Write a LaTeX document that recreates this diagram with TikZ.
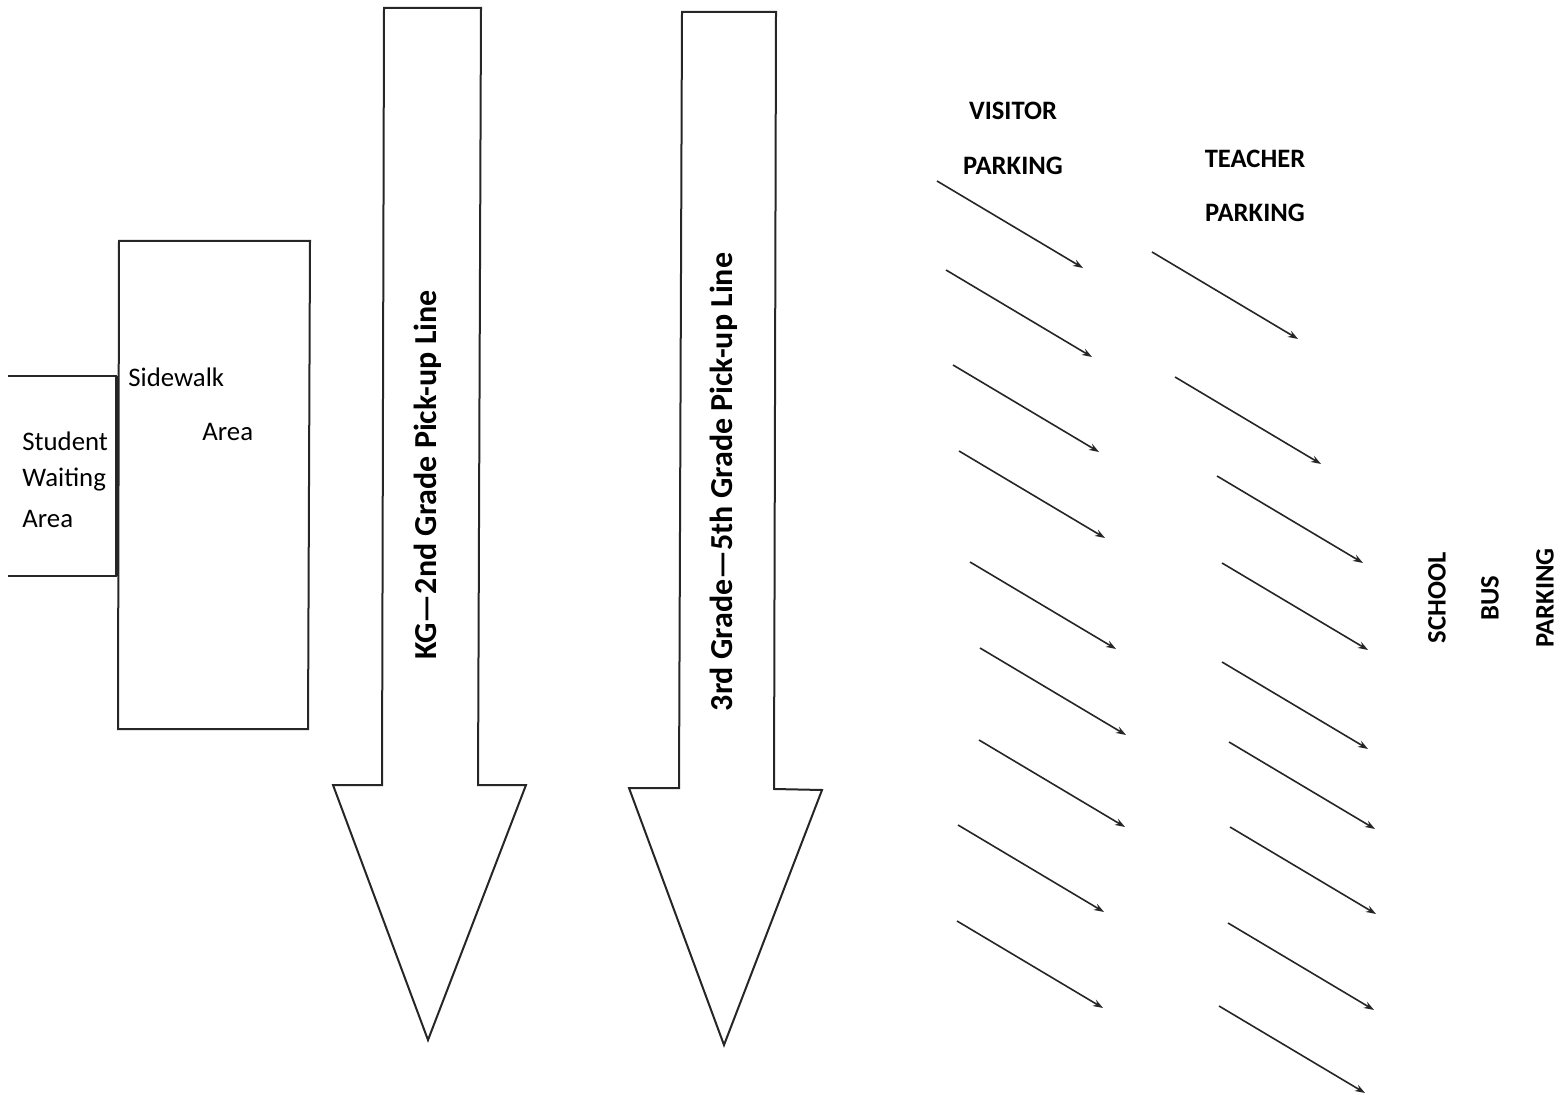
\documentclass[tikz,border=0pt]{standalone}
\usepackage{fontspec}
\setmainfont{Carlito}
\usetikzlibrary{arrows.meta}

\tikzset{
    outline/.style={line width=1pt, draw=black!85},
    lbl/.style={font=\fontsize{13.4}{15}\selectfont, inner sep=0pt},
    bold lbl/.style={font=\fontsize{13.3}{15}\selectfont\bfseries, inner sep=0pt},
    line lbl/.style={font=\fontsize{16}{18}\selectfont\bfseries, inner sep=0pt, rotate=90},
    park/.style={line width=0.8pt, draw=black!85, -{Stealth[length=5pt,width=3.5pt]}}
}

\begin{document}
\begin{tikzpicture}[x=0.5pt,y=-0.5pt]
    \useasboundingbox (0,0) rectangle (1567,1095);

    % sidewalk
    \coordinate (S1) at (119, 241);
    \coordinate (S2) at (310, 241);
    \coordinate (S3) at (308, 729);
    \coordinate (S4) at (118, 729);
    \draw[outline] (S1) -- (S2) -- (S3) -- (S4) -- cycle;

    % waiting area
    \coordinate (W1) at (8, 376);
    \coordinate (W2) at (117, 376);
    \coordinate (W3) at (117, 576);
    \coordinate (W4) at (8, 576);
    \draw[outline] (W1) -- (W2);
    \draw[outline] (W4) -- (W3);
    \draw[line width=1.6pt, draw=black!85] (W2) -- (W3);

    \node[lbl, anchor=west] (sidewalk) at (128, 377) {Sidewalk};
    \node[lbl, anchor=west] (swarea) at (202, 432) {Area};
    \node[lbl, anchor=west] (student) at (22, 441) {Student};
    \node[lbl, anchor=west] (waiting) at (22, 480) {Waiting};
    \node[lbl, anchor=west] (starea) at (22, 519) {Area};

    % KG pick-up line
    \coordinate (A1) at (384, 8);
    \coordinate (A2) at (481, 8);
    \coordinate (A3) at (478, 785);
    \coordinate (A4) at (526, 785);
    \coordinate (A5) at (428, 1040);
    \coordinate (A6) at (333, 785);
    \coordinate (A7) at (382, 785);
    \draw[outline] (A1) -- (A2) -- (A3) -- (A4) -- (A5) -- (A6) -- (A7) -- cycle;
    \node[line lbl] (kgline) at (428, 475) {KG—2nd Grade Pick-up Line};

    % 3rd-5th pick-up line
    \coordinate (B1) at (682, 12);
    \coordinate (B2) at (776, 12);
    \coordinate (B3) at (774, 789);
    \coordinate (B4) at (822, 790);
    \coordinate (B5) at (724, 1045);
    \coordinate (B6) at (629, 788);
    \coordinate (B7) at (679, 788);
    \draw[outline] (B1) -- (B2) -- (B3) -- (B4) -- (B5) -- (B6) -- (B7) -- cycle;
    \node[line lbl] (upline) at (724, 482) {3rd Grade—5th Grade Pick-up Line};

    % parking
    \node[bold lbl] (visitor) at (1013, 111) {VISITOR};
    \node[bold lbl] (vparking) at (1013, 166) {PARKING};
    \node[bold lbl] (teacher) at (1255, 159) {TEACHER};
    \node[bold lbl] (tparking) at (1255, 213) {PARKING};
    \node[bold lbl, rotate=90] (school) at (1437, 598) {SCHOOL};
    \node[bold lbl, rotate=90] (bus) at (1490, 598) {BUS};
    \node[bold lbl, rotate=90] (bparking) at (1545, 598) {PARKING};

    \foreach \x/\y in {937/181, 946/270, 953/365, 959/451, 970/562,
                       980/648, 979/740, 958/825, 957/921}
        \draw[park] (\x, \y) -- ++(146, 87);
    \foreach \x/\y in {1152/252, 1175/377, 1217/476, 1222/563, 1222/662,
                       1229/742, 1230/827, 1228/923, 1219/1006}
        \draw[park] (\x, \y) -- ++(146, 87);

\end{tikzpicture}
\end{document}
